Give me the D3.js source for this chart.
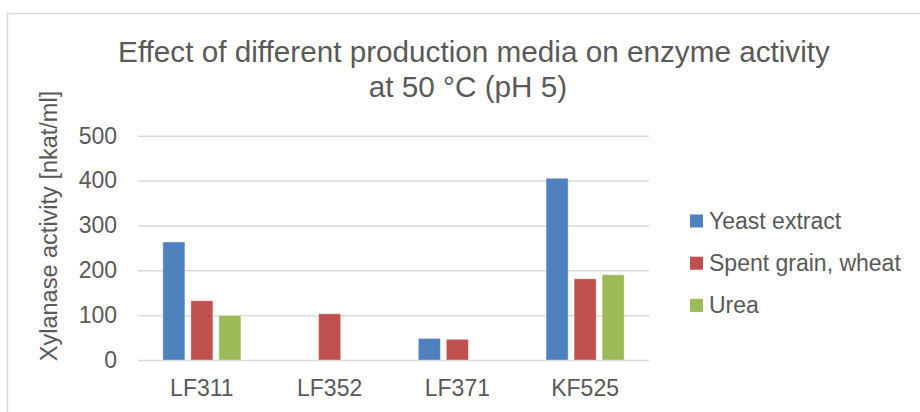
<!DOCTYPE html>
<html>
<head>
<meta charset="utf-8">
<script src="https://cdn.jsdelivr.net/npm/d3@7"></script>
<style>
  body { margin: 0; background: #fff; }
  text { font-family: "Liberation Sans", Arial, sans-serif; fill: #595959; }
</style>
</head>
<body>
<svg width="920" height="412"></svg>
<script>
var categories = ['LF311', 'LF352', 'LF371', 'KF525'];
var seriesNames = ['Yeast extract', 'Spent grain, wheat', 'Urea'];
var yeastExtract = [263, null, 48, 405];
var spentGrain = [132, 103, 46, 181];
var urea = [99, null, null, 190];
var yTicks = [0, 100, 200, 300, 400, 500];
var colors = ['#4f81bd', '#c0504d', '#9bbb59'];

var seriesValues = [yeastExtract, spentGrain, urea];
var data = [];
categories.forEach(function(c, i) {
  seriesNames.forEach(function(s, j) {
    data.push({cat: c, series: s, value: seriesValues[j][i], color: colors[j]});
  });
});

var labelSize = '23px';
var svg = d3.select('svg');

// chart frame
svg.append('rect')
  .attr('x', 7.5).attr('y', 13.5)
  .attr('width', 930).attr('height', 420)
  .style('fill', 'none')
  .style('stroke', '#d9d9d9')
  .style('stroke-width', 1.5);

var xScale = d3.scaleBand().domain(categories).range([138, 649])
  .paddingInner(0.389).paddingOuter(0.1945);
var xInner = d3.scaleBand().domain(seriesNames).range([0, xScale.bandwidth()])
  .paddingInner(0.214);
var yScale = d3.scaleLinear().domain([0, 500]).range([360, 135.7]);

// gridlines + tick labels
var yAxis = svg.append('g')
  .attr('transform', 'translate(138,0)')
  .call(d3.axisLeft(yScale).tickValues(yTicks).tickSize(-511).tickPadding(21));
yAxis.select('.domain').remove();
yAxis.selectAll('line').style('stroke', '#d9d9d9').style('stroke-width', 1.5);
yAxis.selectAll('text')
  .style('font-size', labelSize)
  .style('font-family', '"Liberation Sans", Arial, sans-serif')
  .attr('fill', '#595959');

// bars
svg.selectAll('rect.bar')
  .data(data.filter(d => d.value != null))
  .enter()
  .append('rect')
  .attr('class', 'bar')
  .attr('x', d => xScale(d.cat) + xInner(d.series))
  .attr('width', xInner.bandwidth())
  .attr('y', d => yScale(d.value))
  .attr('height', d => yScale(0) - yScale(d.value))
  .style('fill', d => d.color)
  .style('stroke', 'rgba(255,255,255,0.35)')
  .style('stroke-width', 1);

// category labels
svg.selectAll('text.cat')
  .data(categories)
  .enter()
  .append('text')
  .attr('class', 'cat')
  .attr('x', d => xScale(d) + xScale.bandwidth() / 2)
  .attr('y', 396)
  .attr('text-anchor', 'middle')
  .style('font-size', labelSize)
  .text(d => d);

// axis title
svg.append('text')
  .attr('transform', 'translate(57,226) rotate(-90)')
  .attr('text-anchor', 'middle')
  .style('font-size', '23.5px')
  .text('Xylanase activity [nkat/ml]');

// title
var title = svg.append('text')
  .attr('text-anchor', 'middle')
  .style('font-size', '29.7px');
title.append('tspan').attr('x', 474).attr('y', 62)
  .text('Effect of different production media on enzyme activity');
title.append('tspan').attr('x', 468).attr('y', 97)
  .text('at 50 °C (pH 5)');

// legend
var legend = svg.selectAll('g.legend')
  .data(seriesNames)
  .enter()
  .append('g')
  .attr('class', 'legend')
  .attr('transform', (d, i) => `translate(690, ${221 + i * 42.2})`);
legend.append('rect')
  .attr('x', 0).attr('y', -6.5)
  .attr('width', 13).attr('height', 13)
  .style('fill', (d, i) => colors[i]);
legend.append('text')
  .attr('x', 19).attr('y', 7.5)
  .style('font-size', labelSize)
  .text(d => d);
</script>
</body>
</html>
